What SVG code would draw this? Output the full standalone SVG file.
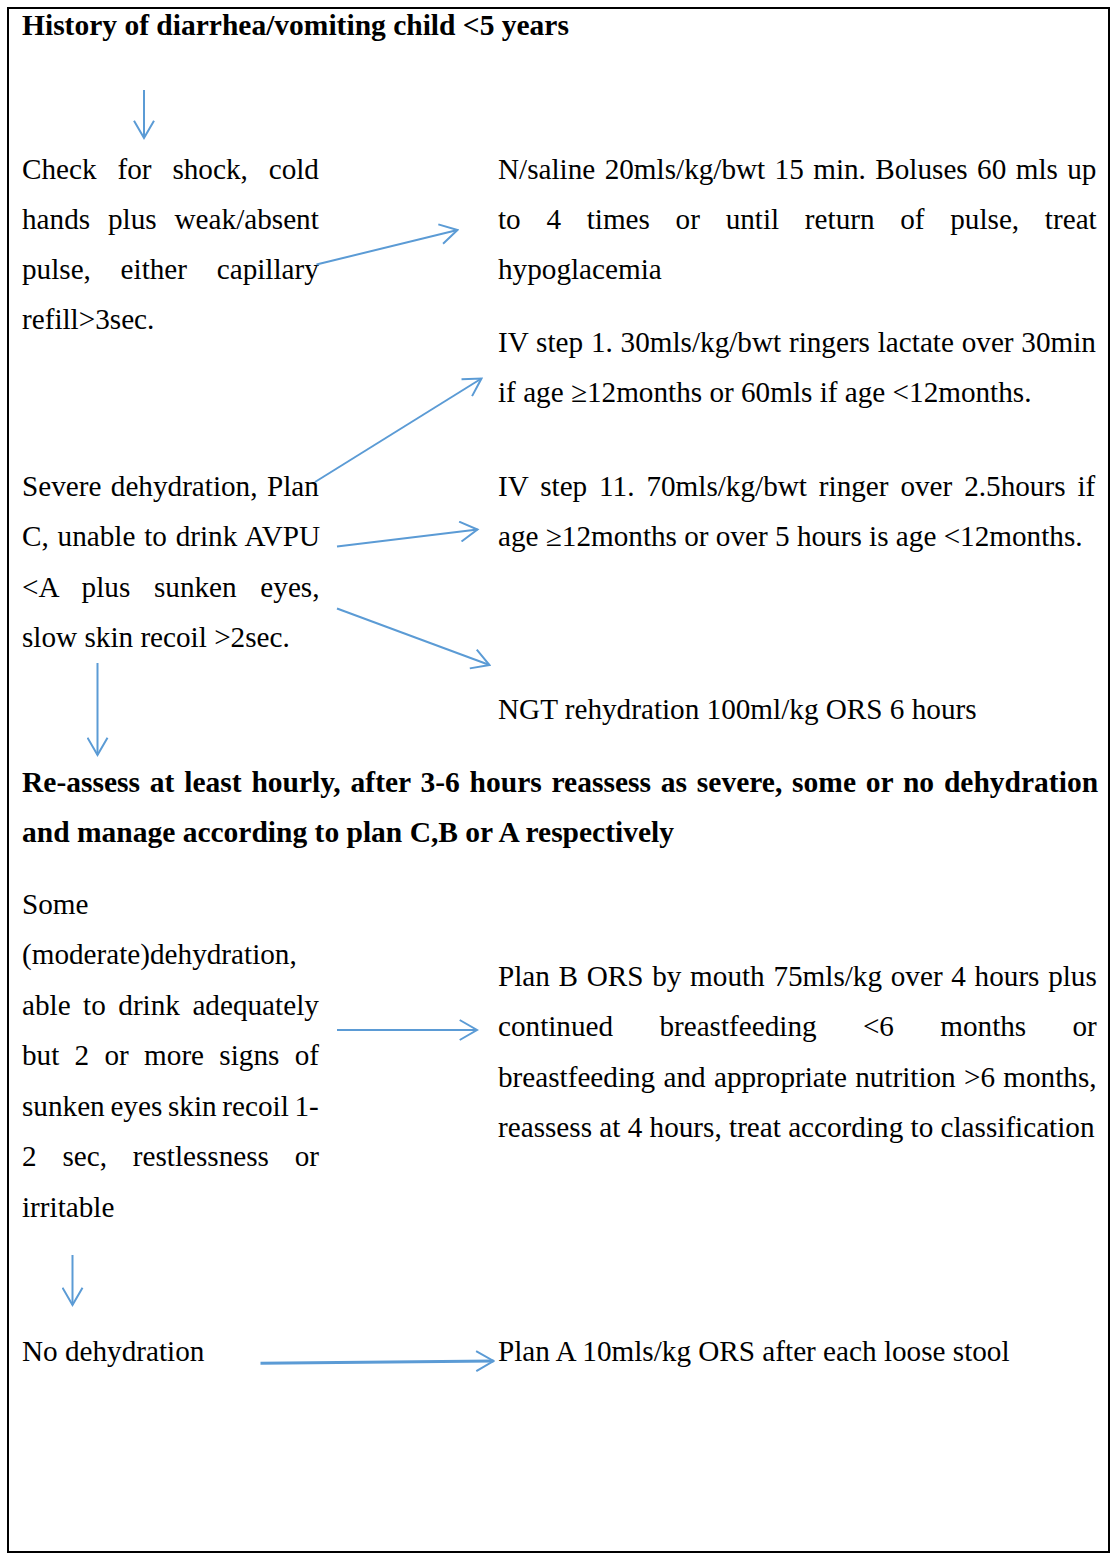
<svg xmlns="http://www.w3.org/2000/svg" width="1113" height="1557" viewBox="0 0 1113 1557">
<style>
text{font-family:"Liberation Serif","Times New Roman",serif;font-size:29.2px;fill:#000}
.b{font-weight:bold;font-size:29.5px}
.c{fill:none;stroke:#5B9BD5;stroke-width:2}
.t{stroke-width:3}
</style>
<defs>
<marker id="ah" markerUnits="userSpaceOnUse" viewBox="0 0 22 22" markerWidth="22" markerHeight="22" refX="20" refY="11" orient="auto">
<path d="M2.7,1 L20,11 L2.7,21" fill="none" stroke="#5B9BD5" stroke-width="2"/>
</marker>
</defs>
<rect x="8" y="8" width="1101" height="1544" fill="#fff" stroke="#000" stroke-width="2"/>
<g id="history"><text class="b" x="22" y="35">History of diarrhea/vomiting child &lt;5 years</text></g>
<g id="check-shock">
<text x="22" y="179" word-spacing="13.6">Check for shock, cold</text>
<text x="22" y="229" word-spacing="10.6">hands plus weak/absent</text>
<text x="22" y="279" word-spacing="22.4">pulse, either capillary</text>
<text x="22" y="329">refill&gt;3sec.</text>
</g>
<g id="nsaline">
<text x="498" y="179" word-spacing="2.1">N/saline 20mls/kg/bwt 15 min. Boluses 60 mls up</text>
<text x="498" y="229" word-spacing="18.4">to 4 times or until return of pulse, treat</text>
<text x="498" y="279">hypoglacemia</text>
</g>
<g id="iv-step1">
<text x="498" y="352" word-spacing="0.5">IV step 1. 30mls/kg/bwt ringers lactate over 30min</text>
<text x="498" y="402">if age ≥12months or 60mls if age &lt;12months.</text>
</g>
<g id="severe">
<text x="22" y="496" word-spacing="2.1">Severe dehydration, Plan</text>
<text x="22" y="546" word-spacing="1.5">C, unable to drink AVPU</text>
<text x="22" y="597" word-spacing="16.4">&lt;A plus sunken eyes,</text>
<text x="22" y="647">slow skin recoil &gt;2sec.</text>
</g>
<g id="iv-step11">
<text x="498" y="496" word-spacing="4.6">IV step 11. 70mls/kg/bwt ringer over 2.5hours if</text>
<text x="498" y="546">age ≥12months or over 5 hours is age &lt;12months.</text>
</g>
<g id="ngt"><text x="498" y="719">NGT rehydration 100ml/kg ORS 6 hours</text></g>
<g id="reassess">
<text class="b" x="22" y="792" word-spacing="2.45">Re-assess at least hourly, after 3-6 hours reassess as severe, some or no dehydration</text>
<text class="b" x="22" y="842">and manage according to plan C,B or A respectively</text>
</g>
<g id="some-dehydration">
<text x="22" y="914">Some</text>
<text x="22" y="964">(moderate)dehydration,</text>
<text x="22" y="1015" word-spacing="5.2">able to drink adequately</text>
<text x="22" y="1065" word-spacing="8">but 2 or more signs of</text>
<text x="22" y="1116" word-spacing="-1.6">sunken eyes skin recoil 1-</text>
<text x="22" y="1166" word-spacing="18.5">2 sec, restlessness or</text>
<text x="22" y="1217">irritable</text>
</g>
<g id="plan-b">
<text x="498" y="986" word-spacing="1.4">Plan B ORS by mouth 75mls/kg over 4 hours plus</text>
<text x="498" y="1036" word-spacing="39">continued breastfeeding &lt;6 months or</text>
<text x="498" y="1087" word-spacing="1">breastfeeding and appropriate nutrition &gt;6 months,</text>
<text x="498" y="1137">reassess at 4 hours, treat according to classification</text>
</g>
<g id="no-dehydration"><text x="22" y="1361">No dehydration</text></g>
<g id="plan-a"><text x="498" y="1361">Plan A 10mls/kg ORS after each loose stool</text></g>
<g id="connectors">
<line class="c" x1="144" y1="90" x2="144" y2="138" marker-end="url(#ah)"/>
<line class="c" x1="316.5" y1="264.5" x2="457.5" y2="230" marker-end="url(#ah)"/>
<line class="c" x1="315" y1="482" x2="481.5" y2="378.5" marker-end="url(#ah)"/>
<line class="c" x1="337" y1="546.5" x2="477.5" y2="529.5" marker-end="url(#ah)"/>
<line class="c" x1="337" y1="608.5" x2="489.5" y2="665" marker-end="url(#ah)"/>
<line class="c" x1="97.5" y1="663" x2="97.5" y2="755" marker-end="url(#ah)"/>
<line class="c" x1="337" y1="1030" x2="477" y2="1030" marker-end="url(#ah)"/>
<line class="c" x1="72.5" y1="1255" x2="72.5" y2="1305" marker-end="url(#ah)"/>
<line class="c t" x1="260.5" y1="1363.3" x2="493.5" y2="1361" marker-end="url(#ah)"/>
</g>
</svg>
